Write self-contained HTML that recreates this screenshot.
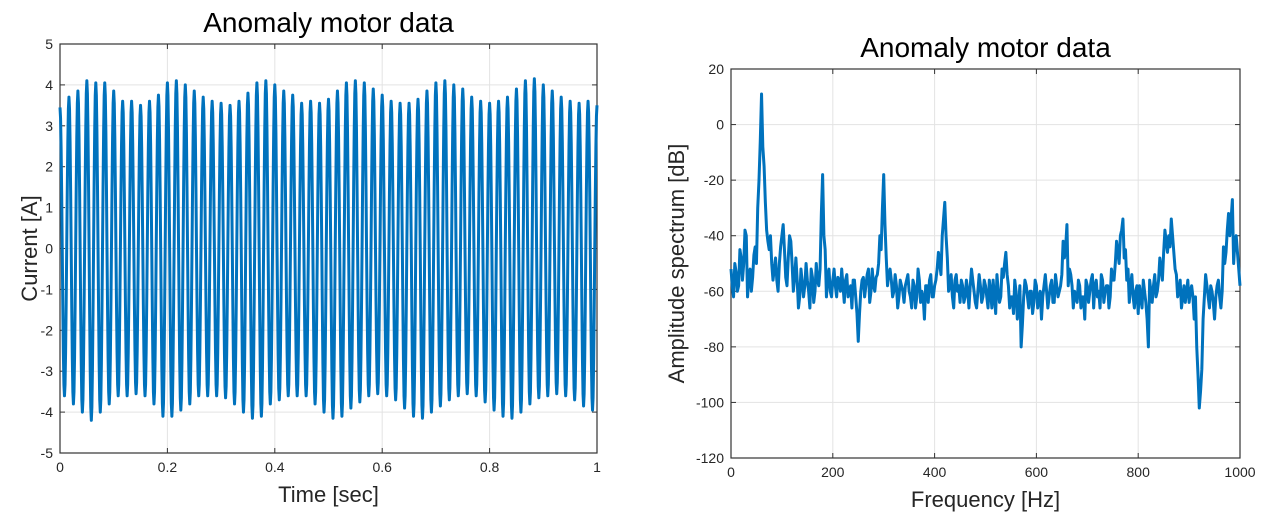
<!DOCTYPE html>
<html><head><meta charset="utf-8"><style>
body{margin:0;background:#fff;}
svg{display:block;font-family:"Liberation Sans",sans-serif;}
</style></head><body>
<svg id="c" width="1267" height="522"></svg>
<script>
// left chart data: per-cycle peaks (61) and troughs (60) of the 60 Hz current
const timePeaks=[3.45,3.7,3.85,4.1,4.05,4.05,3.85,3.6,3.6,3.5,3.6,3.75,4.05,4.1,4.0,3.85,3.7,3.6,3.55,3.5,3.6,3.8,4.05,4.1,4.0,3.85,3.75,3.55,3.6,3.55,3.65,3.85,4.05,4.1,4.05,3.9,3.75,3.6,3.55,3.55,3.65,3.85,4.05,4.1,4.0,3.9,3.7,3.6,3.55,3.6,3.7,3.9,4.1,4.15,4.0,3.85,3.7,3.6,3.55,3.6,3.5];
const timeTroughs=[-3.6,-3.8,-4.0,-4.2,-4.0,-3.8,-3.6,-3.6,-3.55,-3.6,-3.8,-4.1,-4.1,-3.95,-3.8,-3.6,-3.6,-3.6,-3.65,-3.8,-4.0,-4.15,-4.1,-3.8,-3.7,-3.6,-3.6,-3.6,-3.8,-4.0,-4.15,-4.1,-3.9,-3.75,-3.6,-3.55,-3.6,-3.7,-3.9,-4.1,-4.15,-4.0,-3.85,-3.7,-3.6,-3.55,-3.6,-3.75,-3.95,-4.1,-4.15,-4.0,-3.8,-3.65,-3.6,-3.55,-3.6,-3.7,-3.85,-3.95];
const leftXTicks=[0,0.2,0.4,0.6,0.8,1];
const leftXTickLabels=["0","0.2","0.4","0.6","0.8","1"];
const leftYTicks=[-5,-4,-3,-2,-1,0,1,2,3,4,5];
// right chart data: amplitude spectrum in dB at 0,5,10..1000 Hz, plus in-between values at 2.5,7.5,... Hz
const freqStep=5;
const spectrumDb=[-52,-62,-53,-58,-48,-50,-40,-55,-60,-47,-50,-20,11,-15,-38,-45,-50,-52,-56,-50,-40,-45,-58,-40,-50,-55,-56,-62,-57,-58,-56,-66,-55,-60,-56,-52,-18,-45,-55,-60,-56,-58,-55,-60,-58,-56,-62,-58,-56,-62,-78,-60,-55,-58,-52,-60,-58,-55,-50,-45,-18,-48,-54,-56,-60,-58,-62,-58,-64,-56,-60,-66,-58,-62,-56,-60,-70,-58,-56,-62,-58,-52,-50,-40,-28,-48,-58,-62,-56,-60,-64,-58,-62,-60,-58,-56,-64,-60,-58,-62,-58,-66,-60,-56,-68,-60,-62,-55,-46,-58,-62,-68,-60,-65,-80,-62,-58,-66,-60,-64,-58,-62,-70,-58,-60,-62,-56,-64,-58,-60,-54,-48,-36,-52,-58,-60,-64,-58,-62,-70,-58,-60,-54,-58,-62,-66,-56,-60,-58,-62,-56,-50,-46,-40,-34,-45,-52,-58,-62,-60,-68,-62,-56,-64,-80,-60,-58,-62,-56,-52,-46,-42,-40,-34,-46,-54,-60,-66,-58,-60,-64,-58,-70,-80,-102,-88,-62,-58,-66,-60,-70,-58,-62,-60,-50,-38,-40,-27,-42,-46,-58];
const spectrumDbMid=[-58,-50,-60,-45,-56,-38,-62,-52,-55,-44,-30,-6,-8,-28,-42,-40,-56,-48,-60,-44,-36,-55,-48,-42,-60,-48,-66,-52,-62,-50,-60,-52,-64,-50,-58,-32,-40,-62,-52,-62,-52,-62,-56,-52,-64,-54,-60,-66,-56,-68,-68,-56,-62,-54,-64,-52,-60,-54,-40,-30,-36,-58,-52,-62,-54,-66,-56,-60,-58,-54,-62,-56,-66,-52,-64,-62,-58,-64,-54,-62,-56,-46,-54,-34,-40,-60,-54,-66,-54,-58,-56,-64,-56,-66,-52,-60,-66,-54,-64,-56,-62,-56,-66,-62,-54,-64,-52,-50,-54,-66,-62,-56,-70,-58,-72,-56,-62,-60,-68,-56,-66,-60,-62,-54,-66,-58,-64,-54,-62,-58,-42,-44,-58,-54,-66,-62,-56,-66,-62,-56,-64,-56,-66,-56,-60,-54,-64,-58,-66,-52,-56,-42,-50,-38,-48,-56,-64,-54,-66,-58,-58,-66,-60,-70,-56,-64,-54,-60,-48,-56,-38,-46,-44,-40,-52,-62,-56,-62,-64,-56,-60,-62,-62,-90,-96,-70,-54,-62,-58,-64,-62,-56,-66,-44,-46,-32,-34,-50,-40,-52];
const rightXTicks=[0,200,400,600,800,1000];
const rightYTicks=[-120,-100,-80,-60,-40,-20,0,20];

const svg=document.getElementById('c');
const NS='http://www.w3.org/2000/svg';
function mk(t,a,parent){const e=document.createElementNS(NS,t);for(const k in a)e.setAttribute(k,a[k]);(parent||svg).appendChild(e);return e;}

function axes(cfg){
  const g=mk('g',{});
  
  
  const sx=v=>cfg.x0+(v-cfg.xmin)/(cfg.xmax-cfg.xmin)*(cfg.x1-cfg.x0);
  const sy=v=>cfg.y1-(v-cfg.ymin)/(cfg.ymax-cfg.ymin)*(cfg.y1-cfg.y0);
  cfg.xticks.forEach((t,i)=>{
    const gl=mk('line',{x1:sx(t),x2:sx(t),y1:cfg.y0,y2:cfg.y1,stroke:'#e3e3e3','stroke-width':1},g);
    
    mk('line',{x1:sx(t),x2:sx(t),y1:cfg.y1,y2:cfg.y1-5,stroke:'#333'},g);
    mk('line',{x1:sx(t),x2:sx(t),y1:cfg.y0,y2:cfg.y0+5,stroke:'#333'},g);
    const tx=mk('text',{x:sx(t),y:cfg.y1+19,'text-anchor':'middle','font-size':14,fill:'#262626'},g);
    tx.textContent=cfg.xlabels?cfg.xlabels[i]:String(t);
    
  });
  cfg.yticks.forEach(t=>{
    const gl=mk('line',{x1:cfg.x0,x2:cfg.x1,y1:sy(t),y2:sy(t),stroke:'#e3e3e3','stroke-width':1},g);
    
    mk('line',{x1:cfg.x0,x2:cfg.x0+5,y1:sy(t),y2:sy(t),stroke:'#333'},g);
    mk('line',{x1:cfg.x1,x2:cfg.x1-5,y1:sy(t),y2:sy(t),stroke:'#333'},g);
    const tx=mk('text',{x:cfg.x0-7,y:sy(t)+5,'text-anchor':'end','font-size':14,fill:'#262626'},g);
    tx.textContent=String(t);
    
  });
  const box=mk('rect',{x:cfg.x0,y:cfg.y0,width:cfg.x1-cfg.x0,height:cfg.y1-cfg.y0,fill:'none',stroke:'#333','stroke-width':1.2},g);
  
  const ti=mk('text',{x:(cfg.x0+cfg.x1)/2,y:cfg.y0-12,'text-anchor':'middle','font-size':28,fill:'#000'},g);
  ti.textContent=cfg.title;
  const xl=mk('text',{x:(cfg.x0+cfg.x1)/2,y:cfg.y1+49,'text-anchor':'middle','font-size':22,fill:'#262626'},g);
  xl.textContent=cfg.xtitle;
  const yx=cfg.ytitleX, yy=(cfg.y0+cfg.y1)/2;
  const yl=mk('text',{x:yx,y:yy,'text-anchor':'middle','font-size':22,fill:'#262626',transform:`rotate(-90 ${yx} ${yy})`},g);
  yl.textContent=cfg.ytitle;
  return {g,sx,sy};
}

// left chart
const L=axes({name:'current-chart',x0:60,x1:597,y0:44,y1:453,xmin:0,xmax:1,ymin:-5,ymax:5,xticks:leftXTicks,xlabels:leftXTickLabels,yticks:leftYTicks,title:'Anomaly motor data',xtitle:'Time [sec]',ytitle:'Current [A]',ytitleX:37});
let d='';
const nc=timeTroughs.length;
for(let k=0;k<nc;k++){
  const p0=timePeaks[k],tr=timeTroughs[k],p1=timePeaks[k+1];
  for(let s=0;s<=16;s++){
    const ph=s/16;
    const t=(k+ph)/nc;
    const c=Math.cos(2*Math.PI*ph);
    const hi=ph<0.5?p0:p1;
    const v=c>=0?c*hi:-c*tr;
    d+=(d?'L':'M')+L.sx(t).toFixed(2)+' '+L.sy(v).toFixed(2);
  }
}
const lp=mk('path',{d:d,fill:'none',stroke:'#0072BD','stroke-width':3,'stroke-linejoin':'round'},L.g);



// right chart
const R=axes({name:'spectrum-chart',x0:731,x1:1240,y0:69,y1:458,xmin:0,xmax:1000,ymin:-120,ymax:20,xticks:rightXTicks,yticks:rightYTicks,title:'Anomaly motor data',xtitle:'Frequency [Hz]',ytitle:'Amplitude spectrum [dB]',ytitleX:684});
let d2='';
spectrumDb.forEach((v,i)=>{
  d2+=(i?'L':'M')+R.sx(i*freqStep).toFixed(2)+' '+R.sy(v).toFixed(2);
  if(i<spectrumDbMid.length){d2+='L'+R.sx((i+0.5)*freqStep).toFixed(2)+' '+R.sy(spectrumDbMid[i]).toFixed(2);}
});
const rp=mk('path',{d:d2,fill:'none',stroke:'#0072BD','stroke-width':3,'stroke-linejoin':'round'},R.g);


</script>
</body></html>
